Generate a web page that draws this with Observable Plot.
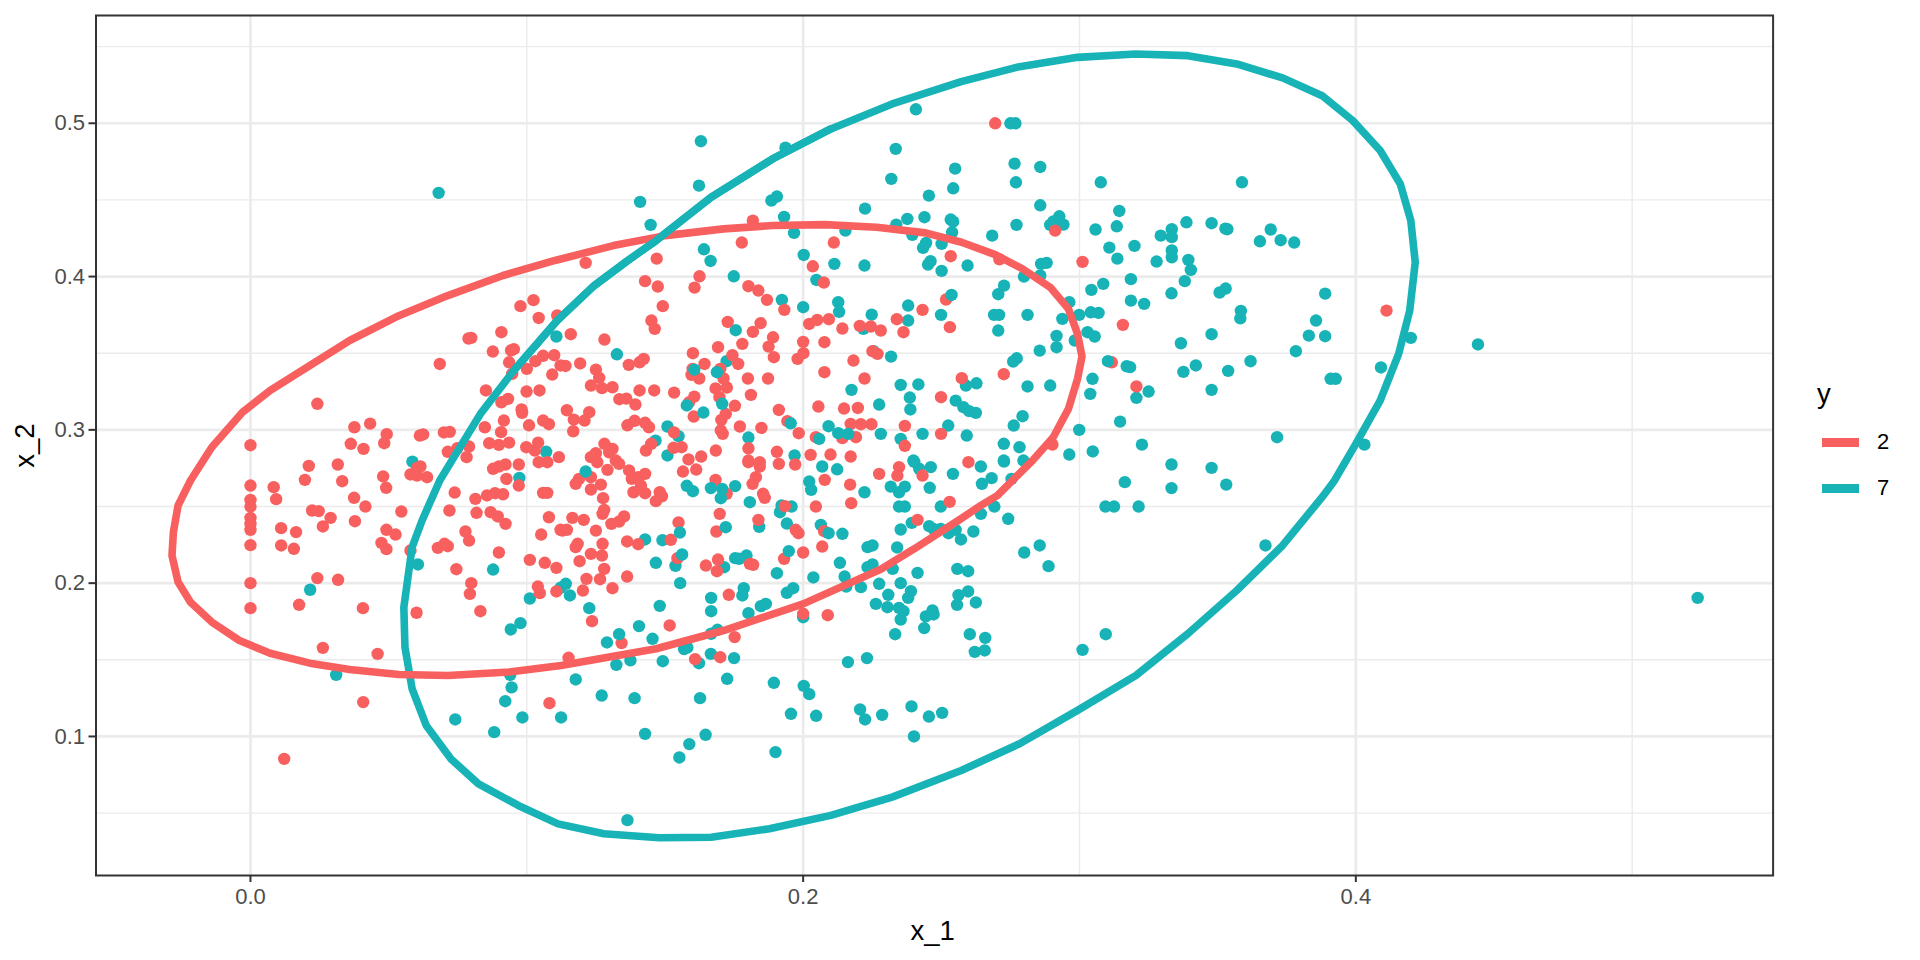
<!DOCTYPE html>
<html><head><meta charset="utf-8">
<script src="https://cdn.jsdelivr.net/npm/d3@7"></script>
<script src="https://cdn.jsdelivr.net/npm/@observablehq/plot@0.6"></script>
<style>
html,body{margin:0;padding:0;background:#fff;font-family:"Liberation Sans",Arial,sans-serif}
#wrap{position:relative;width:1920px;height:960px}
#legend{position:absolute;left:0;top:0}
.lt{position:absolute;color:#000;line-height:1}
.ls{position:absolute;height:9px;width:37px}
</style></head><body><div id="wrap"></div>
<script>
const red="#F8605F", teal="#17B3B7";
const xTicks=[0,0.2,0.4], yTicks=[0.1,0.2,0.3,0.4,0.5];
const xMinor=[0.1,0.3,0.5], yMinor=[0.05,0.15,0.25,0.35,0.45,0.55];
const classes=["2","7"];
const ellipse2=[[-.0217,.2670],[-.0140,.2887],[-.0029,.3115],[.0071,.3257],[.0215,.3420],[.0359,.3583],[.0537,.3745],[.0714,.3876],[.0914,.4007],[.1102,.4105],[.1313,.4202],[.1501,.4267],[.1712,.4311],[.1889,.4333],[.2078,.4339],[.2266,.4322],[.2443,.4285],[.2573,.4224],[.2695,.4143],[.2794,.4050],[.2894,.3930],[.2960,.3789],[.2993,.3626],[.3009,.3478],[.2993,.3333],[.2960,.3137],[.2905,.2952],[.283,.28],[.2703,.2572],[.2643,.2507],[.2571,.242],[.2402,.2224],[.2281,.2091],[.2,.1865],[.1712,.1691],[.1468,.1572],[.1124,.1463],[.0936,.1420],[.0714,.1398],[.0537,.1404],[.0359,.1437],[.0215,.1478],[.0071,.1543],[-.0040,.1626],[-.0140,.1746],[-.0217,.1876],[-.0262,.2007],[-.0284,.2180],[-.0279,.2333],[-.0262,.2507],[-.0217,.2670]];
const ellipse7=[[.0685,.2670],[.0621,.2409],[.0585,.2235],[.0555,.1843],[.0559,.1583],[.0585,.1311],[.0636,.1072],[.0725,.0854],[.0825,.0691],[.0969,.0550],[.1113,.0430],[.1279,.0365],[.1479,.0339],[.1667,.0343],[.1878,.0398],[.2100,.0485],[.2322,.0604],[.2572,.0778],[.2783,.0952],[.2993,.1170],[.3204,.1398],[.3392,.1670],[.3569,.1952],[.3735,.2246],[.3878,.2561],[.3923,.2670],[.4000,.2909],[.4088,.3191],[.4155,.3496],[.4195,.3778],[.4215,.4093],[.4199,.4365],[.4161,.4604],[.4088,.4822],[.3989,.5017],[.3878,.5180],[.3735,.5296],[.3569,.5387],[.3392,.5441],[.3204,.5452],[.2993,.5430],[.2772,.5365],[.2572,.5272],[.2322,.5126],[.2100,.4963],[.1889,.4767],[.1667,.4517],[.1468,.4235],[.1365,.4104],[.1244,.3941],[.111,.3713],[.0953,.3387],[.0832,.3104],[.0736,.2822],[.0685,.2670]];
const points2=[[.1818,.4365],[.1778,.4222],[.2111,.4222],[.1213,.4089],[.147,.4117],[.2035,.4067],[.2534,.4133],[.2695,.5],[.2912,.43],[.3011,.4096],[.271,.4113],[.4111,.3778],
[.0242,.317],[.0685,.343],[.0789,.3596],[.0799,.36],[.0908,.3637],[.0977,.3807],[.1024,.3846],[.1043,.373],[.111,.3746],[.0877,.3511],[.0943,.3518],[.0953,.3526],[.0936,.3441],[.0947,.3365],[.1,.3398],[.1031,.3448],[.1059,.3483],[.1099,.3487],[.1092,.3361],[.1122,.342],[.0852,.3257],[.0999,.325],[.1046,.3257],[.0932,.3202],[.0908,.318],[.0981,.3133],[.0983,.3111],[.0917,.3061],[.0848,.3017],[.1008,.303],[.1059,.3061],[.108,.3037],[.0907,.2985],[.0376,.3017],[.0433,.3041],[.0493,.2972],[.0363,.2909],[.0409,.2876],[.0484,.2913],[0,.29],[.0613,.2963],[.0625,.297],[.07,.2983],[.0721,.2987],[.0864,.2913],[.0899,.2902],[.0936,.2917],[.0998,.2887],[.1041,.2917],[.1029,.2865],[.0791,.2891],[.0748,.288],[.0714,.2857],[.0782,.2822],[.1116,.2822],
[.0211,.2765],[.0316,.2774],[.0878,.2746],[.0899,.2761],[.0923,.2774],[.0971,.2774],[.1043,.2789],[.1074,.2789],[.0603,.2752],[.0579,.2709],[.0603,.2702],[.0639,.2691],[.0615,.2761],[.048,.2696],[.0491,.2622],[.0332,.2665],[.0197,.2674],[.0084,.2626],[.0093,.2548],[0,.2637],[0,.2543],[0,.25],[0,.2426],[0,.2387],[0,.2348],[0,.2248],[0,.2],[0,.1837],[.0223,.2474],[.0247,.247],[.029,.2426],[.0262,.237],[.0111,.2359],[.0165,.2333],[.0111,.2246],[.0157,.2224],[.0375,.2557],[.0416,.25],[.0378,.2404],[.0546,.2467],[.0492,.2348],[.0525,.2317],[.0474,.2263],[.0492,.2222],[.0579,.2213],[.0739,.2591],[.072,.2474],[.0814,.255],[.0856,.2572],[.0885,.2587],[.0914,.258],[.0818,.2459],[.0869,.2463],[.0895,.2435],[.0923,.2387],[.0926,.268],[.0971,.2637],[.1059,.2589],[.1074,.2589],[.108,.243],[.1052,.2317],[.1122,.2348],[.0778,.2337],[.0791,.2278],[.0678,.223],[.0702,.2257],[.0714,.2241],[.0899,.22],[.0745,.2091],[.1011,.2152],[.1065,.2133],[.1107,.21],[.0799,.2],[.0794,.193],[.0832,.1817],[.104,.1978],[.1047,.1935],[.1107,.1946],[.0242,.2033],[.0317,.2022],[.0176,.1859],[.0407,.1837],[.0601,.1807],[.0262,.1578],[.046,.1539],
[.1428,.397],[.1474,.3935],[.1625,.4002],[.1607,.3928],[.1802,.3937],[.1838,.3909],[.1869,.3848],[.1932,.3783],[.2075,.3961],[.1492,.3807],[.1451,.3713],[.1463,.3659],[.1727,.3704],[.1846,.3696],[.1818,.3639],[.1891,.3604],[.1875,.3543],[.1894,.3474],[.178,.3561],[.2022,.3691],[.2051,.3717],[.2093,.3722],[.2142,.3661],[.2205,.3678],[.2245,.3674],[.2281,.3648],[.2,.3574],[.2077,.3572],[.2001,.35],[.198,.3463],[.2251,.3513],[.2269,.3496],[.2182,.3452],[.2077,.3376],[.2222,.3335],[.2055,.3152],[.2148,.3139],[.2198,.3143],[.1912,.313],[.1943,.3057],[.1984,.2978],[.2172,.3039],[.2209,.3037],[.2247,.3037],[.2191,.2952],[.2142,.2946],[.2046,.2952],[.2027,.2837],[.2099,.2839],[.2172,.2826],[.1905,.2857],[.1873,.3335],[.18,.3335],[.1811,.3228],[.1601,.35],[.1692,.3539],[.1744,.3487],[.1765,.343],[.1643,.343],[.16,.3398],[.1596,.3359],[.1624,.3335],[.17,.3398],[.1712,.3335],[.1683,.327],[.1724,.3276],[.1697,.3213],[.1753,.3157],[.172,.3104],[.1704,.3065],[.1606,.3217],[.1587,.318],[.1604,.3087],[.1771,.3022],[.1849,.3013],[.1702,.2996],[.1709,.2974],[.1802,.288],[.1684,.2865],[.1631,.2826],[.1585,.2807],[.1802,.28],[.1533,.3243],[.1461,.3257],[.1408,.3257],[.1423,.3463],[.1408,.3441],[.1369,.3424],[.1281,.3589],[.1159,.3624],[.1193,.3433],[.114,.3417],[.125,.3393],[.1262,.3339],[.1232,.3289],[.1272,.3272],[.131,.3278],[.1335,.32],[.136,.3204],[.1393,.3165],[.1145,.3128],[.1226,.3115],[.117,.3067],[.1209,.3061],[.1168,.2991],[.1364,.303],[.139,.3059],[.1428,.3046],[.1442,.3017],[.1533,.2983],[.145,.2909],[.1431,.2865],[.156,.2887],[.1531,.2883],[.1281,.2909],[.125,.2848],[.131,.2876],[.1298,.2854],[.1322,.28],[.1232,.2822],
[.1255,.2789],[.1232,.2691],[.1177,.2648],[.1189,.268],[.1268,.2643],[.1292,.2739],[.1334,.2778],[.137,.2735],[.138,.268],[.1428,.2713],[.1403,.2691],[.1413,.2637],[.1232,.2611],[.1276,.2554],[.1386,.2593],[.1428,.2587],[.1481,.2593],[.1489,.2567],[.1467,.2535],[.128,.2478],[.1274,.2452],[.1352,.2435],[.1334,.2402],[.1306,.2387],[.1165,.2426],[.1206,.2413],[.1129,.2343],[.1145,.2348],[.125,.2343],[.1184,.2257],[.1177,.2235],[.1274,.2257],[.1232,.2191],[.1272,.218],[.1191,.2143],[.128,.2093],[.1216,.2028],[.1265,.2026],[.1363,.2043],[.131,.1967],[.1203,.1952],[.1236,.1752],[.1343,.1609],[.1517,.1724],[.1363,.2272],[.1403,.2254],[.1521,.2283],[.1549,.2396],[.1545,.2163],[.1565,.2728],[.1613,.2741],[.1683,.2674],[.1723,.2583],[.1802,.2789],[.1843,.2789],[.1843,.2761],[.1912,.2778],[.1971,.2774],[.2078,.2674],[.217,.2643],[.2174,.2522],[.2275,.2713],[.1817,.2648],[.1829,.2691],[.1855,.2583],[.1861,.2557],[.2046,.25],[.1934,.2502],[.1698,.2452],[.1838,.2413],[.1973,.2348],[.1983,.2326],[.2076,.2339],[.1686,.2337],[.1931,.2159],[.2,.22],[.2069,.2239],[.1648,.2115],[.1692,.2154],[.1688,.2078],[.1807,.2126],[.1819,.212],[.1731,.1924],[.2,.18],[.2089,.1791],[.1752,.1648],[.1151,.1513],[.17,.1517],[.1609,.1504],
[.2347,.2757],[.2341,.2702],[.2432,.2702],[.2598,.2789],[.253,.253],[.2414,.2413],[.2517,.385],[.2432,.3783],[.2339,.3722],[.2531,.367],[.2363,.3637],[.3157,.3685],[.3117,.3441],[.3206,.3283],[.2726,.3363],[.2902,.2904],[.2574,.3337],[.2499,.3213],[.2368,.3026],[.2499,.2974],[.2368,.2896],
[.0408,.1224],[.0122,.0854],[.1082,.1217]];
const points7=[[.0681,.4546],[.163,.4883],[.1936,.4841],[.1623,.4593],[.141,.4487],[.1448,.4337],[.1885,.4496],[.1905,.4522],[.1931,.4389],[.1967,.4285],[.1641,.4178],[.1665,.4102],[.2002,.4141],[.2113,.4083],[.2153,.43],[.2224,.4443],[.2222,.4072],[.2335,.4833],[.2319,.4637],[.2408,.5091],[.2455,.4528],[.2377,.4376],[.2337,.4339],[.2395,.4272],[.2439,.4387],[.2534,.4372],[.2543,.4358],[.2539,.4289],[.2543,.4576],[.255,.4704],[.2445,.422],[.2434,.4187],[.2501,.4213],[.2461,.41],[.2452,.4078],[.2501,.4037],
[.275,.5],[.2768,.5],[.2765,.4737],[.2858,.4715],[.277,.4615],[.3077,.4615],[.3588,.4615],[.2858,.4465],[.3144,.4428],[.2927,.4393],[.2772,.4337],[.2894,.4337],[.2905,.4359],[.2942,.4339],[.3058,.4307],[.3135,.4328],[.2684,.4267],[.3334,.4309],[.3334,.4257],[.3294,.4267],[.3387,.4354],[.3478,.4348],[.3535,.4309],[.3528,.4313],[.3692,.4307],[.3653,.423],[.3728,.4237],[.3777,.4222],[.3108,.4189],[.3199,.42],[.3334,.417],[.3334,.4126],[.3137,.4117],[.3279,.4098],[.3394,.4109],[.3403,.4043],[.2861,.4083],[.2881,.4089],[.2595,.4072],
[.3529,.3922],[.3507,.3896],[.3889,.3889],[.3584,.3776],[.3582,.3728],[.3856,.3713],[.383,.3615],[.3889,.3611],[.3478,.3624],[.3783,.3513],[.4199,.36],[.4442,.3557],[.3619,.3448],[.3538,.3385],[.4091,.3407],[.3909,.3333],[.3927,.3333],[.3478,.3261],[.3715,.2952],[.4031,.2904],[.5237,.1904],[.3673,.2246],[.3531,.2643],[.3478,.2752],
[.1107,.3609],[.107,.2857],[.0586,.2793],[.0973,.2687],[.0606,.2122],[.0878,.2089],[.1122,.197],[.1011,.19],[.0977,.1739],[.0942,.1698],[.0216,.1957],
[.1749,.4002],[.1923,.3848],[.2,.38],[.2048,.3978],[.2127,.3833],[.213,.377],[.2248,.3752],[.1756,.365],[.2218,.3659],[.2255,.3513],[.1723,.3448],[.2175,.3261],[.2275,.3165],[.2092,.3024],[.2281,.2974],[.1969,.2833],[.1802,.295],[.1509,.3022],[.1549,.2959],[.1466,.293],[.1509,.2833],[.1326,.3493],
[.1141,.1996],[.1156,.192],[.1226,.1837],[.129,.1613],[.1406,.172],[.1455,.1637],[.1481,.1852],[.1467,.2133],[.1428,.2285],[.1491,.228],[.1538,.2113],[.1555,.2],[.1579,.2635],[.1601,.26],[.1754,.2633],[.2069,.2761],[.2123,.2743],[.2022,.2663],[.2029,.2609],[.2222,.2593],[.1807,.2528],[.1958,.25],[.1922,.2507],[.1916,.2463],[.1841,.2367],[.1941,.2389],[.2064,.238],[.2142,.2322],[.2133,.2133],[.2233,.2235],[.2251,.2246],[.2251,.2122],[.2233,.2104],[.215,.2043],[.2209,.1974],[.2156,.1978],[.2275,.1996],[.2263,.1865],[.2037,.2037],[.1905,.2065],[.1714,.2104],[.1754,.2163],[.1768,.2159],[.1795,.218],[.1667,.1904],[.1667,.1817],[.1785,.1967],[.178,.192],[.1802,.1804],[.1847,.185],[.1865,.1865],[.1941,.1937],[.1964,.1967],[.2,.1778],[.1667,.167],[.169,.1696],[.1569,.157],[.1581,.158],[.1666,.1539],[.175,.1511],
[.2402,.2791],[.242,.2746],[.2462,.2757],[.2542,.2713],[.2643,.2761],[.2682,.2685],[.2647,.2648],[.2754,.268],[.2727,.2793],[.2458,.2622],[.2317,.263],[.2368,.263],[.2347,.2593],[.2347,.25],[.2368,.25],[.2498,.25],[.2692,.25],[.2643,.2452],[.2742,.242],[.2393,.2393],[.2353,.235],[.2456,.2372],[.2472,.2354],[.2498,.2354],[.2526,.2326],[.2552,.2348],[.2571,.2285],[.2616,.2337],[.234,.2233],[.2324,.2093],[.2414,.2067],[.2558,.2093],[.2597,.2078],[.2353,.2],[.2308,.1924],[.239,.1948],[.238,.1904],[.2305,.1843],[.2347,.1839],[.2363,.1817],[.2353,.1763],[.2468,.1822],[.2444,.1783],[.2472,.1796],[.2438,.1707],[.2333,.1667],[.2597,.1946],[.2562,.1922],[.2625,.1874],[.2557,.1859],[.2603,.1667],[.2659,.1643],[.2621,.1552],[.2657,.1561],[.28,.22],[.2856,.2246],[.2888,.2111],[.3011,.1565],[.3095,.1667],[.3094,.25],[.3125,.25],[.3214,.25],[.3164,.2659],[.3333,.2774],[.3333,.262],
[.2799,.4],[.2858,.4007],[.2727,.3941],[.2706,.3885],[.2963,.3833],[.3043,.3913],[.3086,.3952],[.3186,.3983],[.3381,.397],[.3333,.3891],[.3186,.3843],[.3234,.3822],[.2812,.375],[.2691,.375],[.2709,.375],[.2706,.3648],[.238,.3811],[.238,.3713],[.2499,.375],[.2938,.3724],[.2999,.375],[.3041,.3767],[.3069,.3763],[.3029,.3637],[.3055,.3609],[.2917,.3613],[.2917,.3539],[.2983,.3583],[.2856,.3517],[.2773,.3467],[.276,.3446],[.3367,.3565],[.3376,.3378],[.3421,.342],[.3171,.3415],[.3183,.3409],[.325,.325],[.3206,.3209],[.3047,.3333],[.3039,.3235],[.2812,.3283],[.2894,.3289],[.3147,.3054],[.2999,.3],[.3226,.2904],[.3048,.2859],[.2963,.2839],[.2794,.3089],[.2762,.3028],[.2726,.2909],[.2783,.2887],[.2726,.28],[.2797,.28],[.2589,.3289],[.2627,.3304],[.2552,.3191],[.258,.3148],[.2601,.3122],[.2625,.3111],[.2318,.3478],[.2353,.3293],[.2417,.3296],[.2386,.3211],[.2388,.3133],[.2525,.3028],[.2432,.2974],[.2353,.2941],[.2592,.2963],[.2399,.28],
[.031,.1402],[.094,.1402],[.0945,.132],[.1177,.1372],[.1271,.1267],[.139,.125],[.1627,.125],[.1725,.1376],[.1894,.135],[.2002,.133],[.2022,.1276],[.2162,.1485],[.2231,.1511],[.1492,.1491],[.1375,.1496],[.1324,.1467],[.1623,.1478],[.0922,.123],[.0741,.1111],[.0984,.1124],[.1124,.1124],[.0882,.1028],[.1428,.1017],[.1588,.095],[.1647,.1011],[.1552,.0863],[.1364,.0454],[.19,.0898],[.1956,.1148],[.2047,.1135],[.2206,.1176],[.2224,.1111],[.2286,.1141],[.2392,.1196],[.2455,.113],[.2503,.1154],[.2401,.1]];
const points7Over=[[.1606,.3393],[.1688,.3376],[.1707,.317],[.1579,.3159],[.1639,.3113],[.1955,.3043],[.2127,.2978],[.2163,.2974],[.2058,.2941],[.1213,.2728],[.1562,.2187],[.1554,.233],[.1666,.262],[.1707,.2615],[.1702,.2554],[.2092,.2326],[.172,.2365],[.1334,.1667],[.1948,.2209],[.2537,.388],[.3103,.3448]];

const xy=(p)=>({x:d=>d[0],y:d=>d[1],...p});
const plot=Plot.plot({
  width:1920,height:960,
  marginLeft:95.5,marginRight:147.4,marginTop:15,marginBottom:85,
  style:{background:"#fff",fontFamily:'"Liberation Sans",Arial,sans-serif',overflow:"visible"},
  x:{domain:[-0.0559,0.551],label:null},
  y:{domain:[0.0093,0.5703],label:null},
  marks:[
    Plot.ruleX(xMinor,{stroke:"#ebebeb",strokeWidth:1.4}),
    Plot.ruleY(yMinor,{stroke:"#ebebeb",strokeWidth:1.4}),
    Plot.ruleX(xTicks,{stroke:"#ebebeb",strokeWidth:2.7}),
    Plot.ruleY(yTicks,{stroke:"#ebebeb",strokeWidth:2.7}),
    Plot.dot(points7,xy({r:6.2,fill:teal})),
    Plot.dot(points2,xy({r:6.2,fill:red})),
    Plot.dot(points7Over,xy({r:6.2,fill:teal})),
    Plot.line(ellipse7,xy({stroke:teal,strokeWidth:7.6,curve:"linear"})),
    Plot.line(ellipse2,xy({stroke:red,strokeWidth:7.6,curve:"linear"})),
    Plot.line(ellipse7.slice(-11,-3),xy({stroke:teal,strokeWidth:7.6,curve:"linear"})),
    Plot.frame({stroke:"#333",strokeWidth:2}),
    Plot.axisX(xTicks,{tickFormat:d3.format(".1f"),fontSize:22,fill:"#4d4d4d",stroke:"#333",strokeWidth:2,tickSize:7,tickPadding:6,label:null}),
    Plot.axisY(yTicks,{tickFormat:d3.format(".1f"),fontSize:22,fill:"#4d4d4d",stroke:"#333",strokeWidth:2,tickSize:7,tickPadding:4,label:null}),
    Plot.text(["x_1"],{frameAnchor:"bottom",dy:64,dx:-2,fontSize:27.5,fill:"#000",textAnchor:"middle"}),
    Plot.text(["x_2"],{frameAnchor:"left",dx:-71,fontSize:27.5,fill:"#000",rotate:-90,textAnchor:"middle"})
  ]
});
const wrap=document.getElementById("wrap");
wrap.appendChild(plot);
const lg=document.createElement("div");lg.id="legend";
const t=document.createElement("div");t.className="lt";t.textContent="y";t.style.cssText="left:1817px;top:380px;font-size:27.5px";lg.appendChild(t);
classes.forEach((c,i)=>{
  const s=document.createElement("div");s.className="ls";s.style.left="1822px";s.style.top=(438+i*46)+"px";s.style.background=i?teal:red;lg.appendChild(s);
  const l=document.createElement("div");l.className="lt";l.textContent=c;l.style.cssText="left:1877px;top:"+(431+i*46)+"px;font-size:22px";lg.appendChild(l);
});
wrap.appendChild(lg);
</script></body></html>
